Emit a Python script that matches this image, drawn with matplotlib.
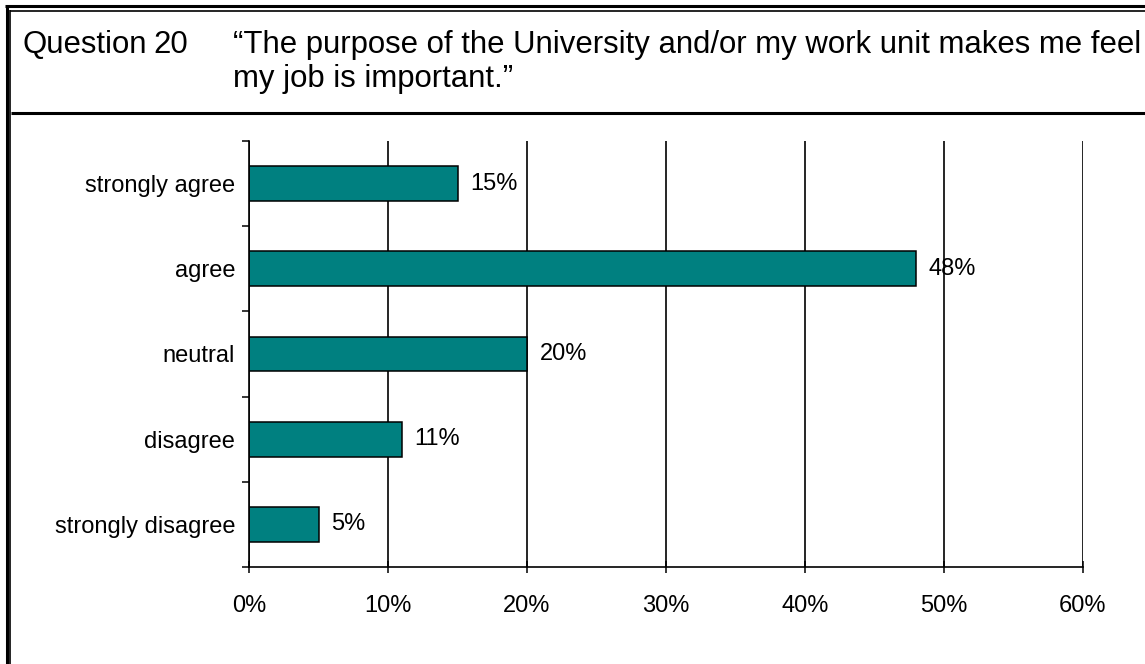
import matplotlib.pyplot as plt
from matplotlib.lines import Line2D

plt.rcParams['font.family'] = ['Liberation Sans', 'DejaVu Sans']

categories = ['strongly agree', 'agree', 'neutral', 'disagree', 'strongly disagree']
percents = [15, 48, 20, 11, 5]
x_ticks = [0, 10, 20, 30, 40, 50, 60]
question_text = ['\u201cThe purpose of the University and/or my work unit makes me feel',
                 'my job is important.\u201d']

W, H = 1145, 664
fig = plt.figure(figsize=(W / 100, H / 100), dpi=100)


def fx(px):
    return px / W


def fy(py):
    return 1 - py / H


def hline(y, x0, x1, lw):
    fig.add_artist(Line2D([fx(x0), fx(x1)], [fy(y), fy(y)], color='black',
                          lw=lw, solid_capstyle='butt', transform=fig.transFigure))


def vline(x, y0, y1, lw):
    fig.add_artist(Line2D([fx(x), fx(x)], [fy(y0), fy(y1)], color='black',
                          lw=lw, solid_capstyle='butt', transform=fig.transFigure))


# double frame on top and left, header separator
hline(6, 5, W, 2.2)
hline(10.8, 10, W, 1.2)
vline(6.5, 5, H, 2.2)
vline(10.5, 10, H, 1.2)
hline(112.5, 11, W, 2.2)

# header text
hdr = 22.4
fig.text(fx(23), fy(53), 'Question', fontsize=hdr, va='baseline')
fig.text(fx(153), fy(53), '20', fontsize=hdr, va='baseline')
fig.text(fx(233), fy(53), question_text[0], fontsize=hdr, va='baseline')
fig.text(fx(233), fy(87), question_text[1], fontsize=hdr, va='baseline')

ax = fig.add_axes([fx(249), fy(567), fx(1083) - fx(249), fy(141) - fy(567)])

ypos = list(range(len(categories)))
ax.barh(ypos, percents, height=0.41, color='#008080', edgecolor='black',
        linewidth=1.1, zorder=3)
for y, v in zip(ypos, percents):
    ax.annotate(f'{v}%', (v, y), xytext=(9, 0), textcoords='offset points',
                va='center', ha='left', fontsize=17, zorder=4)

ax.set_xlim(0, 60)
ax.set_ylim(len(categories) - 0.5, -0.5)
ax.set_xticks(x_ticks)
ax.set_xticklabels([f'{t}%' for t in x_ticks], fontsize=17)
ax.tick_params(axis='x', direction='inout', length=9, width=1.1, pad=16)

# category boundaries get tick marks, names sit between them
ax.set_yticks([i - 0.5 for i in range(len(categories) + 1)])
ax.set_yticklabels([])
ax.set_yticks(ypos, minor=True)
ax.set_yticklabels(categories, minor=True, fontsize=17)
ax.tick_params(axis='y', which='major', direction='out', length=5, width=1.1)
ax.tick_params(axis='y', which='minor', length=0, pad=10)

ax.grid(axis='x', color='black', linewidth=1.2, zorder=1)
ax.set_axisbelow(True)
for side in ['top', 'right']:
    ax.spines[side].set_visible(False)
for side in ['left', 'bottom']:
    ax.spines[side].set_linewidth(1.2)
    ax.spines[side].set_zorder(5)

fig.savefig('out.png', dpi=100)
